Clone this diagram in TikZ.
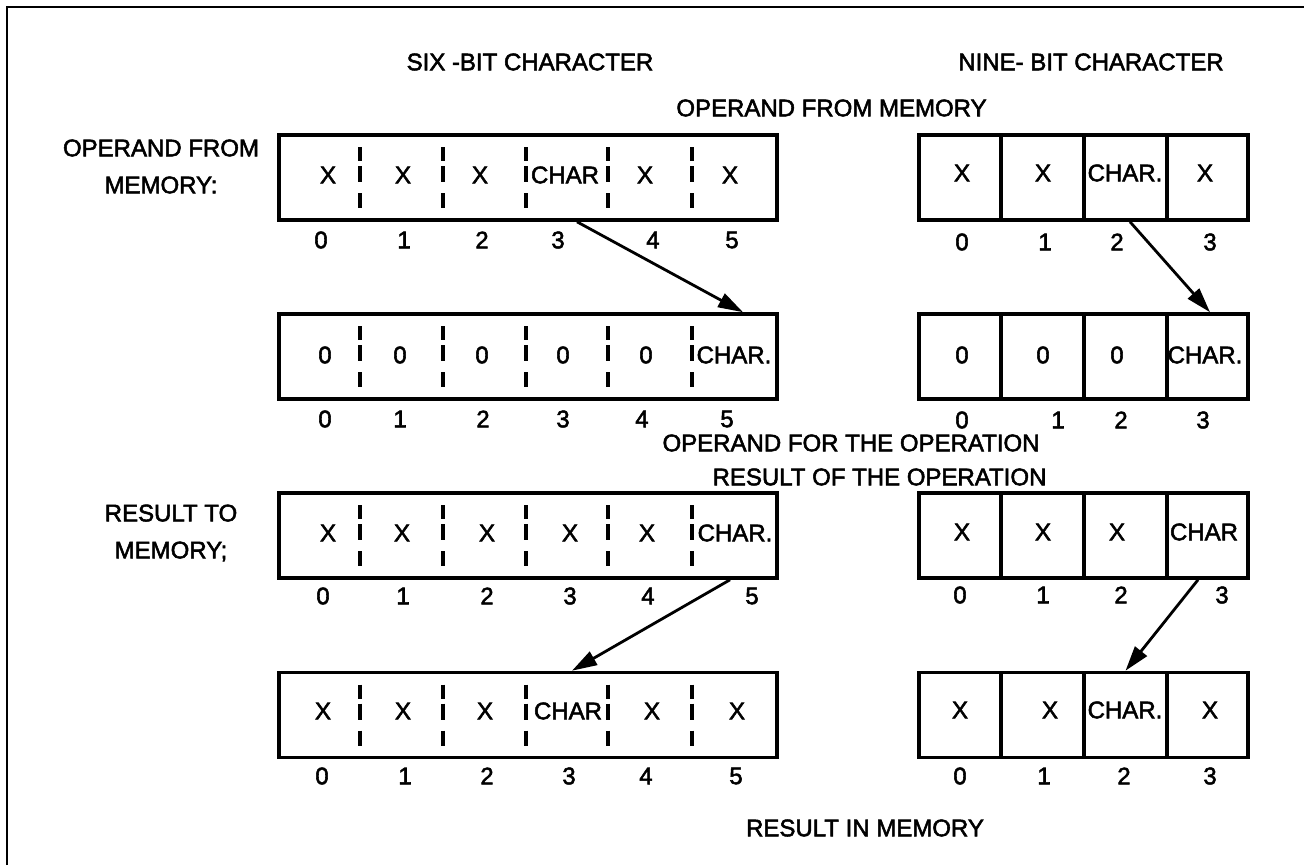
\documentclass[tikz,border=0pt]{standalone}
\usepackage{fontspec}
\setmainfont{Liberation Sans}
\newfontfamily\medfont[FakeBold=2.2]{Liberation Sans}
\usetikzlibrary{arrows.meta,calc}
\begin{document}
\begin{tikzpicture}[x=1pt,y=-1pt,
  txt/.style={font=\medfont\fontsize{24}{37}\selectfont, inner sep=0pt, anchor=center},
  reg/.style={draw, line width=3.6pt, minimum height=85pt, inner sep=0pt},
  dsh/.style={line width=3.2pt},
  sol/.style={line width=3.2pt},
  arr/.style={line width=2.8pt, -{Triangle[length=25pt,width=15pt]}},
  frame/.style={line width=2pt}
]
\useasboundingbox (0,0) rectangle (1304,865);
\draw[frame] (7,865) -- (7,7) -- (1304,7);

% headings
\node[txt] (hsix) at (530,62) {SIX -BIT CHARACTER};
\node[txt] (hnine) at (1091,62) {NINE- BIT CHARACTER};
\node[txt] (hopm) at (831.5,108) {OPERAND FROM MEMORY};
\node[txt] (hopo) at (851,443) {OPERAND FOR THE OPERATION};
\node[txt] (hres) at (879.5,477) {RESULT OF THE OPERATION};
\node[txt] (hrim) at (865,828) {RESULT IN MEMORY};
\node[txt, align=center] (lopm) at (161,166.5) {OPERAND FROM\\MEMORY:};
\node[txt, align=center] (lrtm) at (171,533) {RESULT TO\\MEMORY;};

% registers
\foreach \r/\yc in {1/177.5,2/356.5,3/535.5,4/715} {
  \node[reg, minimum width=498pt] (six\r) at (528,\yc) {};
  \node[reg, minimum width=329pt] (nine\r) at (1083.5,\yc) {};
  \foreach \xx in {360,443,526,608,692} {
    \draw[dsh] (\xx,\yc-30.5) -- (\xx,\yc-16.5)
               (\xx,\yc-11.5) -- (\xx,\yc+4.5)
               (\xx,\yc+15.5) -- (\xx,\yc+30.5);
  }
  \foreach \xx in {1001,1084,1167} {
    \draw[sol] (\xx,\yc-42.5) -- (\xx,\yc+42.5);
  }
}

% six-bit cell contents
\foreach \xx/\tt [count=\i] in {328/X,403/X,480/X,565/CHAR,645/X,730/X}
  \node[txt] (sa\i) at (\xx,175) {\tt};
\foreach \xx/\tt [count=\i] in {325/0,400/0,482/0,563/0,646/0,734/CHAR.}
  \node[txt] (sb\i) at (\xx,355) {\tt};
\foreach \xx/\tt [count=\i] in {328/X,402/X,487/X,570/X,647/X,735/CHAR.}
  \node[txt] (sc\i) at (\xx,533) {\tt};
\foreach \xx/\tt [count=\i] in {323/X,403/X,485/X,568/CHAR,652/X,737/X}
  \node[txt] (sd\i) at (\xx,711) {\tt};

% nine-bit cell contents
\foreach \xx/\tt [count=\i] in {962/X,1043/X,1125/CHAR.,1205/X}
  \node[txt] (na\i) at (\xx,173) {\tt};
\foreach \xx/\tt [count=\i] in {962/0,1043/0,1117/0,1205/CHAR.}
  \node[txt] (nb\i) at (\xx,355) {\tt};
\foreach \xx/\tt [count=\i] in {962/X,1043/X,1117/X,1204/CHAR}
  \node[txt] (nc\i) at (\xx,532) {\tt};
\foreach \xx/\tt [count=\i] in {960/X,1050/X,1125/CHAR.,1210/X}
  \node[txt] (nd\i) at (\xx,710) {\tt};

% six-bit numbers
\foreach \xx [count=\i from 0] in {321,404,482,558,653,732}
  \node[txt] (sna\i) at (\xx,240) {\i};
\foreach \xx [count=\i from 0] in {325,400,483,563,642,727}
  \node[txt] (snb\i) at (\xx,419) {\i};
\foreach \xx [count=\i from 0] in {323,403,487,570,648,752}
  \node[txt] (snc\i) at (\xx,596) {\i};
\foreach \xx [count=\i from 0] in {322,405,487,569,646,736}
  \node[txt] (snd\i) at (\xx,776) {\i};

% nine-bit numbers
\foreach \xx [count=\i from 0] in {962,1045,1117,1210}
  \node[txt] (nna\i) at (\xx,242) {\i};
\foreach \xx [count=\i from 0] in {962,1058,1121,1203}
  \node[txt] (nnb\i) at (\xx,420) {\i};
\foreach \xx [count=\i from 0] in {960,1043,1121,1222}
  \node[txt] (nnc\i) at (\xx,595) {\i};
\foreach \xx [count=\i from 0] in {960,1044,1124,1210}
  \node[txt] (nnd\i) at (\xx,776) {\i};

% arrows
\draw[arr] ([xshift=49pt]six1.south) -- ([xshift=215pt]six2.north);
\draw[arr] ([xshift=46.5pt]nine1.south) -- ([xshift=126.5pt]nine2.north);
\draw[arr] ([xshift=202pt]six3.south) -- ([xshift=44pt]six4.north);
\draw[arr] ([xshift=114.5pt]nine3.south) -- ([xshift=42pt]nine4.north);
\end{tikzpicture}
\end{document}
